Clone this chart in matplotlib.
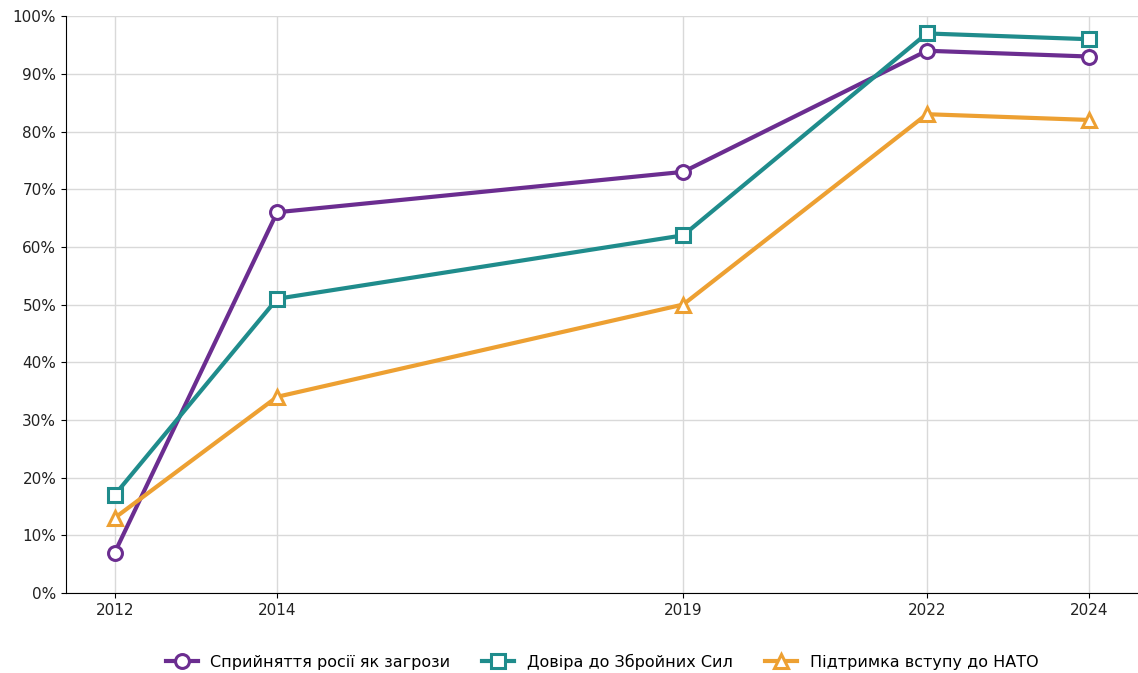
import matplotlib.pyplot as plt
from matplotlib.ticker import PercentFormatter

years = [2012, 2014, 2019, 2022, 2024]
threat = [7, 66, 73, 94, 93]
army_trust = [17, 51, 62, 97, 96]
nato_support = [13, 34, 50, 83, 82]

labels = ['Сприйняття росії як загрози', 'Довіра до Збройних Сил', 'Підтримка вступу до НАТО']
colors = ['#6b2d90', '#1f8c8c', '#eda032']
markers = ['o', 's', '^']

fig = plt.figure(figsize=(11.38, 6.73), dpi=100)
ax = fig.add_axes([0.058, 0.119, 0.942, 0.857])

for vals, lab, col, mk in zip([threat, army_trust, nato_support], labels, colors, markers):
    ax.plot(years, vals, color=col, lw=3, marker=mk, markersize=10,
            markerfacecolor='white', markeredgecolor=col, markeredgewidth=2.2,
            label=lab, zorder=3)

ax.set_ylim(0, 100)
ax.set_yticks(range(0, 101, 10))
ax.yaxis.set_major_formatter(PercentFormatter(decimals=0))
ax.set_xticks(years)
ax.tick_params(labelsize=11, labelcolor='#222222')
ax.grid(True, color='#d9d9d9', lw=1)
ax.set_axisbelow(True)
for s in ['top', 'right']:
    ax.spines[s].set_visible(False)

ax.legend(loc='upper center', bbox_to_anchor=(0.5, -0.08), ncol=3, frameon=False,
          fontsize=11.5, handlelength=2, columnspacing=2)

fig.savefig('out.png', dpi=100)
